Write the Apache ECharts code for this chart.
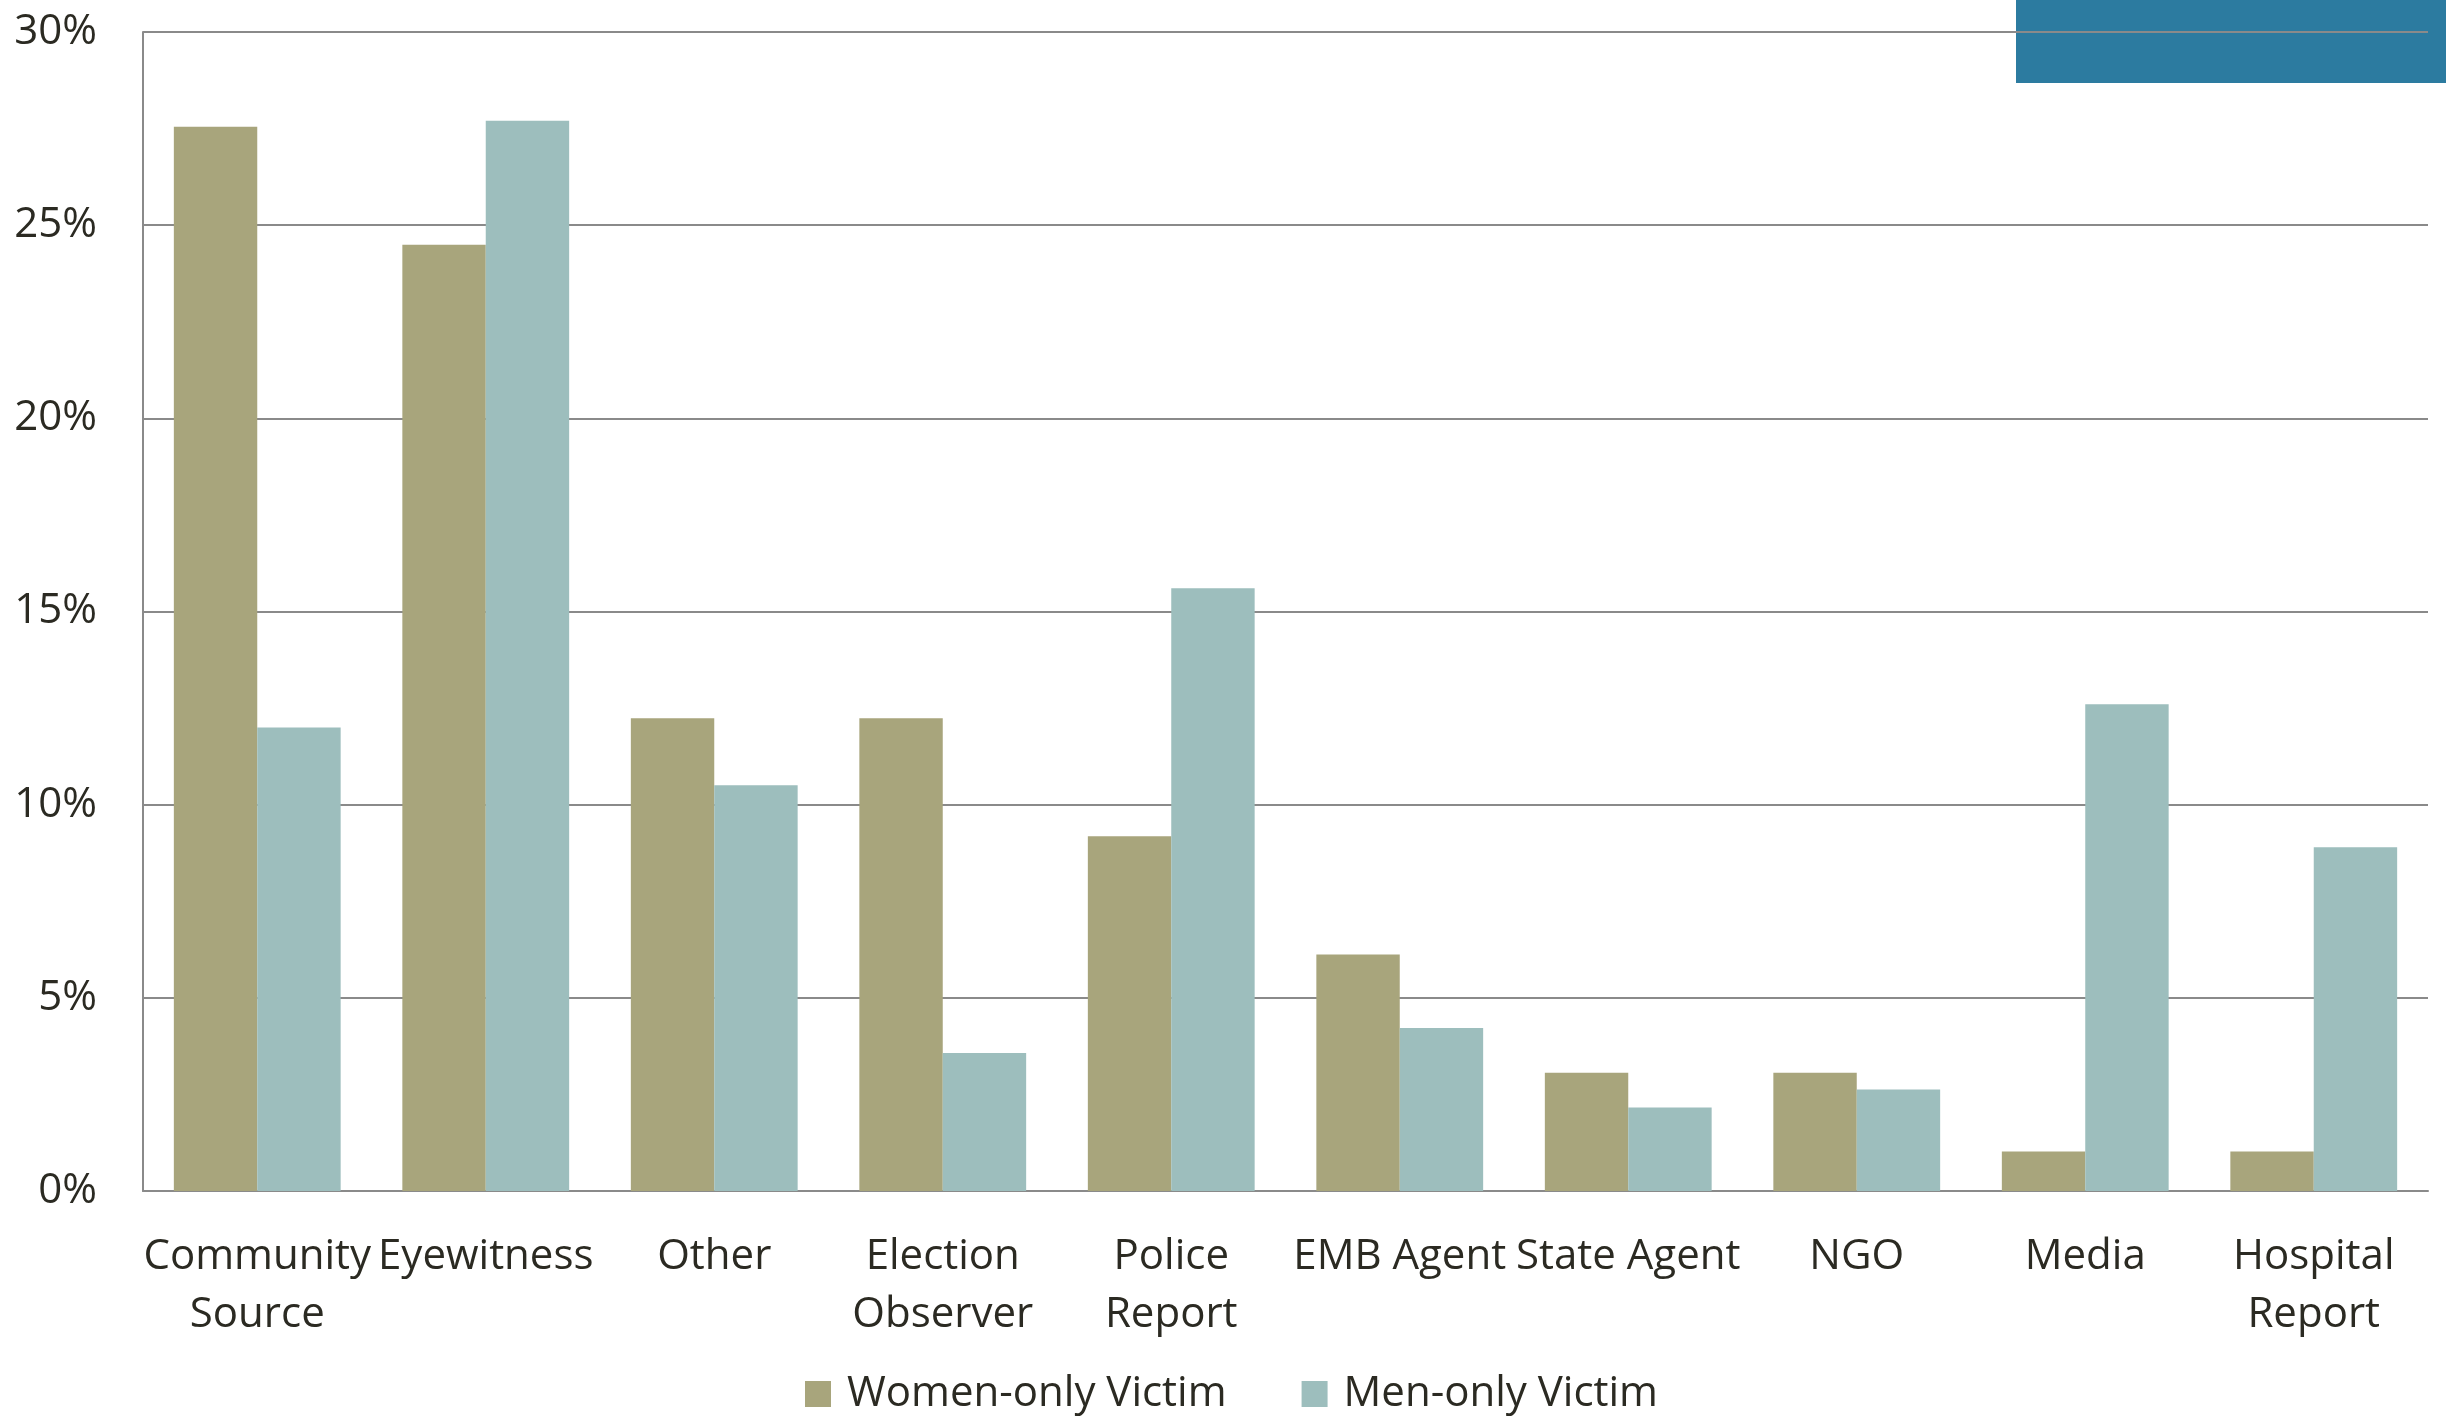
<!DOCTYPE html>
<html>
<head>
<meta charset="utf-8">
<script src="https://cdn.jsdelivr.net/npm/echarts@6/dist/echarts.min.js"></script>
<style>
  html, body { margin: 0; padding: 0; background: #fff; }
  #echarts { width: 2446px; height: 1416px; }
</style>
</head>
<body>
<div id="echarts"></div>
<script>
// categories + values (percent)
var categories = ['Community\nSource', 'Eyewitness', 'Other', 'Election\nObserver', 'Police\nReport',
                  'EMB Agent', 'State Agent', 'NGO', 'Media', 'Hospital\nReport'];
var womenOnly = [27.55, 24.49, 12.24, 12.24, 9.18, 6.12, 3.06, 3.06, 1.02, 1.02];
var menOnly = [12.0, 27.7, 10.5, 3.57, 15.6, 4.22, 2.16, 2.63, 12.6, 8.9];
var seriesNames = ['Women-only Victim', 'Men-only Victim'];
var yTicks = [0, 5, 10, 15, 20, 25, 30];

var textColor = '#2b2a22';
var lineColor = '#8a8a8a';
var fontFamily = '"Open Sans", sans-serif';

var myChart = echarts.init(document.getElementById('echarts'));

var option = {
    animation: false,
    color: ['#a8a57c', '#9dbebd'],
    textStyle: { fontFamily: fontFamily },
    // blue decoration block in the top-right corner
    graphic: [{
        type: 'rect',
        z: -10,
        shape: { x: 2016, y: 0, width: 430, height: 83 },
        style: { fill: '#2c7ba0' }
    }],
    grid: { left: 143, right: 18, top: 32, bottom: 225 },
    legend: {
        data: seriesNames,
        left: 800,
        top: 1368,
        itemWidth: 26,
        itemHeight: 26,
        itemGap: 75,
        icon: 'rect',
        textStyle: { fontSize: 42, color: textColor, fontFamily: fontFamily, padding: [0, 0, 0, 11] }
    },
    xAxis: {
        type: 'category',
        data: categories,
        axisTick: { show: false },
        axisLine: { lineStyle: { color: lineColor, width: 2 } },
        axisLabel: {
            interval: 0,
            margin: 37,
            fontSize: 42,
            lineHeight: 58,
            color: textColor,
            fontFamily: fontFamily
        }
    },
    yAxis: {
        type: 'value',
        min: yTicks[0],
        max: yTicks[yTicks.length - 1],
        interval: 5,
        axisLine: { show: true, lineStyle: { color: lineColor, width: 2 } },
        axisTick: { show: false },
        splitLine: { lineStyle: { color: lineColor, width: 2 } },
        axisLabel: {
            formatter: '{value}%',
            margin: 46,
            fontSize: 42,
            color: textColor,
            fontFamily: fontFamily
        }
    },
    series: [
        {
            name: seriesNames[0],
            type: 'bar',
            barGap: '0%',
            barCategoryGap: '27%',
            data: womenOnly
        },
        {
            name: seriesNames[1],
            type: 'bar',
            barGap: '0%',
            barCategoryGap: '27%',
            data: menOnly
        }
    ]
};

myChart.setOption(option);
</script>
</body>
</html>
